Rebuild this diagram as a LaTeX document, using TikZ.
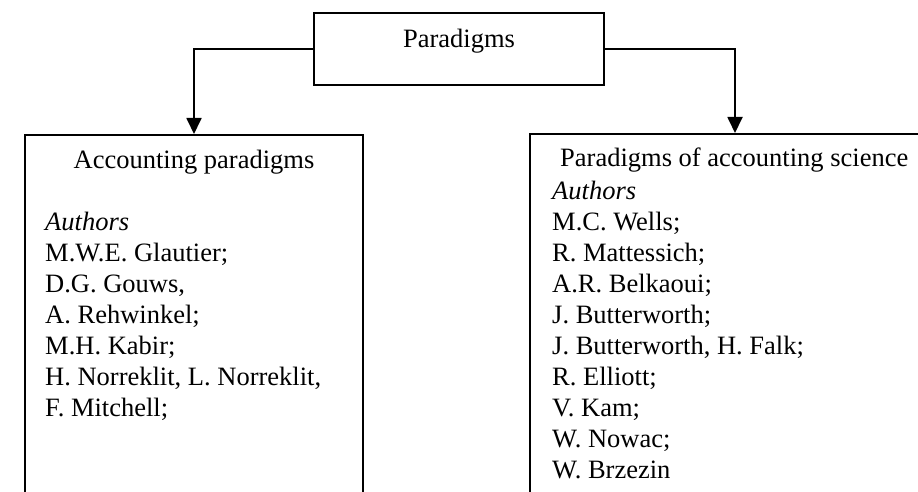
\documentclass[tikz,border=0pt]{standalone}
\usepackage{fontspec}
\setmainfont{Liberation Serif}
\usepackage{tikz}
\usetikzlibrary{arrows.meta}
\usetikzlibrary{positioning}

\tikzset{
  box/.style={draw, line width=1.6pt, rectangle, inner sep=0pt},
  conn/.style={line width=1.8pt, -{Triangle[length=16pt,width=15pt]}},
  line/.style={anchor=base west, inner sep=0pt}
}

\begin{document}
\begin{tikzpicture}[x=1pt, y=-1pt, font=\fontsize{26.5}{31}\selectfont]
    \useasboundingbox (0,0) rectangle (918,492);
    \clip (0,0) rectangle (918,492);
    \node[box, minimum width=290pt, minimum height=72pt, text depth=22pt] (paradigms) at (459,49) {Paradigms};
    \node[box, anchor=north, minimum width=338pt, minimum height=400pt] (accbox) at (194,134) {};
    \node[box, anchor=north, minimum width=410pt, minimum height=400pt] (scibox) at (735,133) {};
    \draw[conn] (paradigms.west) -| (accbox.north);
    \draw[conn] (paradigms.east) -| (scibox.north);
    \node[anchor=base, inner sep=0pt] (acctitle) at (194,168) {Accounting paradigms};
    \node[line] (scititle) at (560,167) {Paradigms of accounting science};
    \foreach \who [count=\i from 0] in {\textit{Authors}, M.W.E. Glautier;, {D.G. Gouws,}, A. Rehwinkel;, M.H. Kabir;, {H. Norreklit, L. Norreklit,}, F. Mitchell;}
        \node[line] (acc\i) at (45,{230+31*\i}) {\who};
    \foreach \who [count=\i from 0] in {\textit{Authors}, M.C. Wells;, R. Mattessich;, A.R. Belkaoui;, J. Butterworth;, {J. Butterworth, H. Falk;}, R. Elliott;, V. Kam;, W. Nowac;, W. Brzezin}
        \node[line] (sci\i) at (552,{199+31*\i}) {\who};
\end{tikzpicture}
\end{document}
